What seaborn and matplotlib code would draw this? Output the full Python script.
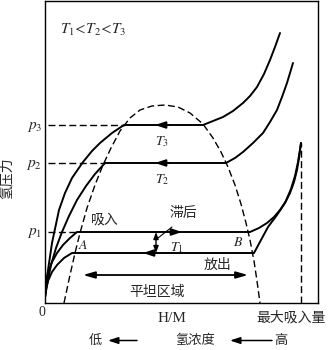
import matplotlib
matplotlib.use("Agg")
import pandas as pd
import seaborn as sns
import matplotlib.pyplot as plt

# ---------------- data (chart units: x = hydrogen concentration, y = pressure) -------------
t3_x = [0, 2, 7, 14, 20, 27, 38, 47, 55, 67, 79, 158, 168, 178, 188, 198, 205, 212, 219, 225, 230, 235]
t3_y = [6, 26, 60, 93, 110, 125, 141, 152, 160, 170, 178, 178, 182, 186, 192, 200, 207, 216, 229, 243, 256, 270]

t2_x = [0, 2, 6, 11, 17, 24, 32, 41, 50, 60, 181, 190, 198, 208, 218, 225, 232, 237, 242, 245, 248]
t2_y = [6, 18, 38, 55, 71, 87, 103, 117, 129, 140, 140, 145, 151, 160, 170, 181, 193, 206, 220, 230, 240]

t1a_x = [0, 1, 3, 7, 12, 18, 25, 32, 205, 214, 222, 229, 235, 241, 245, 249, 252, 254, 256]
t1a_y = [8, 20, 30, 41, 50, 58, 65, 71, 71, 75, 80, 86, 93, 102, 110, 121, 133, 145, 160]

t1d_x = [0, 1, 3, 7, 12, 19, 27, 209, 223, 232, 240, 246, 250, 253, 256]
t1d_y = [5, 13, 22, 31, 38, 45, 50, 50, 76, 88, 100, 114, 127, 141, 160]

dome_x = [19, 25, 30, 35, 42, 50, 58, 66, 75, 85, 95, 107, 120, 133, 145, 158, 168, 176,
          183, 190, 196, 201, 205, 209, 212, 215]
dome_y = [0, 28, 50, 70, 95, 118, 138, 155, 172, 185, 193, 197, 198, 196, 190, 179, 165, 151,
          136, 118, 99, 80, 63, 42, 22, 0]

max_abs_x = [256, 256]
max_abs_y = [0, 160]

p_levels = [178, 140, 71]          # p3, p2, p1
p_ends = [79, 60, 32]              # where each plateau starts
p_labels = [r"$p_3$", r"$p_2$", r"$p_1$"]
lower_plateau = 50

# ---------------- style ----------------
sns.set_style("white")
plt.rcParams["font.family"] = ["Noto Sans CJK SC", "DejaVu Sans"]
plt.rcParams["mathtext.fontset"] = "stix"

fig = plt.figure(figsize=(3.35, 3.5), dpi=100)
ax = fig.add_axes([45 / 335, 47 / 350, 273 / 335, 302 / 350])

SOLID = dict(color="black", linewidth=1.4, estimator=None, sort=False)
DASH = dict(color="black", linewidth=1.0, estimator=None, sort=False, linestyle="--")


def solid(x, y):
    sns.lineplot(x=x, y=y, ax=ax, **SOLID)
    ax.lines[-1].set_solid_joinstyle("round")


def dashed(x, y):
    sns.lineplot(x=x, y=y, ax=ax, **DASH)
    ax.lines[-1].set_dashes([5, 2.5])


solid(t3_x, t3_y)
solid(t2_x, t2_y)
solid(t1a_x, t1a_y)
solid(t1d_x, t1d_y)
dashed(dome_x, dome_y)
dashed(max_abs_x, max_abs_y)
for lvl, end in zip(p_levels, p_ends):
    dashed([3, end], [lvl, lvl])

ax.set_xlim(0, 273)
ax.set_ylim(0, 302)
ax.set_xticks([])
ax.set_yticks([])
ax.set_xlabel("")
ax.set_ylabel("")
for s in ax.spines.values():
    s.set_visible(True)
    s.set_color("black")
    s.set_linewidth(1.0)


def arrow(x0, y0, x1, y1, style="-|>", hl=0.6, hw=0.2, lw=1.4):
    ax.annotate("", xy=(x1, y1), xytext=(x0, y0), annotation_clip=False,
                arrowprops=dict(arrowstyle=f"{style},head_length={hl},head_width={hw}",
                                color="black", lw=lw, shrinkA=0, shrinkB=0))


# plateau direction arrows
arrow(124, p_levels[0], 110, p_levels[0])
arrow(124, p_levels[1], 110, p_levels[1])
arrow(123, p_levels[2], 137, p_levels[2])
arrow(112, lower_plateau, 98, lower_plateau)
# flat region double arrow
arrow(38, 28, 203, 28, style="<|-|>", hl=0.7, hw=0.2, lw=1.3)
# hysteresis arrow
arrow(111, lower_plateau, 111, p_levels[2], style="<|-|>", hl=0.4, hw=0.15, lw=1.0)
ax.plot([113, 127], [65, 76], color="black", lw=0.8)

# ---------------- texts ----------------
ax.text(48, 273, r"$T_1\!<\!T_2\!<\!T_3$", fontsize=11, ha="center", va="center")
for lvl, lab in zip(p_levels, p_labels):
    ax.text(-3, lvl, lab, fontsize=11, ha="right", va="center")
ax.text(117, 161, r"$T_3$", fontsize=10, ha="center", va="center")
ax.text(117, 123, r"$T_2$", fontsize=10, ha="center", va="center")
ax.text(132, 55, r"$T_1$", fontsize=10, ha="center", va="center")
ax.text(38, 58, r"$A$", fontsize=10, ha="center", va="center")
ax.text(193, 61, r"$B$", fontsize=10, ha="center", va="center")

ax.text(60, 83, "吸入", fontsize=10, ha="center", va="center")
ax.text(173, 38, "放出", fontsize=10, ha="center", va="center")
ax.text(138, 90, "滞后", fontsize=10, ha="center", va="center")
ax.text(112, 11, "平坦区域", fontsize=10, ha="center", va="center")
ax.text(-38, 125, "氢压力", fontsize=10, ha="center", va="center", rotation=90)

ax.text(-3, -9, "0", fontsize=10, ha="center", va="center", family="Liberation Serif")
ax.text(127, -15, "H/M", fontsize=11, ha="center", va="center", family="Liberation Serif")
ax.text(246, -15, "最大吸入量", fontsize=10, ha="center", va="center")

bot = -37.5
ax.text(50, bot, "低", fontsize=9.5, ha="center", va="center")
ax.text(150, bot, "氢浓度", fontsize=9.5, ha="center", va="center")
ax.text(236, bot, "高", fontsize=9.5, ha="center", va="center")
arrow(92, bot, 63, bot, hl=0.6, hw=0.2, lw=1.1)
arrow(227, bot, 185, bot, hl=0.6, hw=0.2, lw=1.1)

fig.savefig("out.png", dpi=100)
